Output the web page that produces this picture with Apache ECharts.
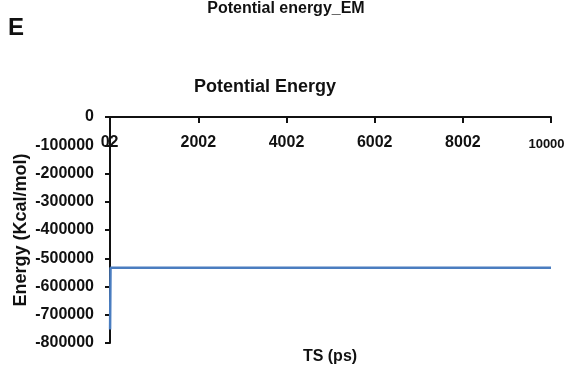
<!DOCTYPE html>
<html>
<head>
<meta charset="utf-8">
<title>Potential energy_EM</title>
<script src="https://cdn.jsdelivr.net/npm/echarts@6/dist/echarts.min.js"></script>
<style>
  html, body { margin: 0; padding: 0; background: #ffffff; }
  #chart { width: 570px; height: 369px; }
</style>
</head>
<body>
<div id="chart"></div>
<script>
// Time steps (ps) and potential energy (kcal/mol) of the minimisation run
const timeSteps = [2, 12, 502, 1002, 2002, 3002, 4002, 5002, 6002, 7002, 8002, 9002, 10000];
const energy = [-752000, -533600, -533500, -533600, -533500, -533600, -533500, -533600, -533500, -533600, -533500, -533600, -533500];

// Axis tick positions and labels
const xTickValues = [2002, 4002, 6002, 8002, 10000];
const xLabelValues = [2, 2002, 4002, 6002, 8002, 10000];
const yMin = -800000;
const yMax = 0;
const yStep = 100000;

const FONT = '"Liberation Sans", Arial, sans-serif';
const INK = '#111111';

const chart = echarts.init(document.getElementById('chart'), null, { renderer: 'canvas' });

chart.setOption({
  backgroundColor: '#ffffff',
  animation: false,
  grid: { left: 110, right: 19, top: 117, bottom: 26, containLabel: false, outerBoundsMode: 'none' },
  xAxis: {
    type: 'value',
    position: 'top',
    min: 0,
    max: 10000,
    axisLine: { show: true, onZero: false, lineStyle: { color: INK, width: 2 } },
    axisTick: { show: true, inside: true, customValues: xTickValues, length: 6, lineStyle: { color: INK, width: 2 } },
    splitLine: { show: false },
    axisLabel: {
      inside: true,
      customValues: xLabelValues,
      showMinLabel: true,
      showMaxLabel: true,
      hideOverlap: false,
      margin: 18,
      color: INK,
      fontFamily: FONT,
      fontWeight: 'bold',
      fontSize: 16,
      formatter: function (v) {
        // the first category carries both the "0" and the "2" start marks
        if (v === 2) return '{lo|02}';
        if (v === 10000) return '{end|10000}';
        return String(v);
      },
      rich: {
        lo: { fontFamily: FONT, fontWeight: 'bold', fontSize: 16, color: INK, padding: [0, 1, 0, 0] },
        end: { fontFamily: FONT, fontWeight: 'bold', fontSize: 13, color: INK, padding: [3, 9, 0, 0] }
      }
    }
  },
  yAxis: {
    type: 'value',
    min: yMin,
    max: yMax,
    interval: yStep,
    name: 'Energy (Kcal/mol)',
    nameLocation: 'middle',
    nameRotate: 90,
    nameGap: 80,
    nameMoveOverlap: false,
    nameTextStyle: { color: INK, fontFamily: FONT, fontWeight: 'bold', fontSize: 18 },
    axisLine: { show: true, lineStyle: { color: INK, width: 2 } },
    axisTick: { show: true, length: 5, lineStyle: { color: INK, width: 2 } },
    splitLine: { show: false },
    axisLabel: {
      margin: 16,
      color: INK,
      fontFamily: FONT,
      fontWeight: 'bold',
      fontSize: 16,
      formatter: function (v) { return String(v); }
    }
  },
  series: [{
    type: 'line',
    data: timeSteps.map((t, i) => [t, energy[i]]),
    showSymbol: false,
    symbol: 'none',
    lineStyle: { color: '#4a7dc0', width: 2.5 },
    z: 1
  }],
  graphic: [
    { type: 'text', left: 8, top: 16, style: { text: 'E', font: 'bold 24px ' + FONT, fill: INK } },
    { type: 'text', x: 286, y: 9, style: { text: 'Potential energy_EM', font: 'bold 16px ' + FONT, fill: INK, align: 'center', verticalAlign: 'middle' } },
    { type: 'text', x: 265, y: 87, style: { text: 'Potential Energy', font: 'bold 18px ' + FONT, fill: INK, align: 'center', verticalAlign: 'middle' } },
    { type: 'text', x: 330, y: 357, style: { text: 'TS (ps)', font: 'bold 16px ' + FONT, fill: INK, align: 'center', verticalAlign: 'middle' } }
  ]
});
</script>
</body>
</html>
